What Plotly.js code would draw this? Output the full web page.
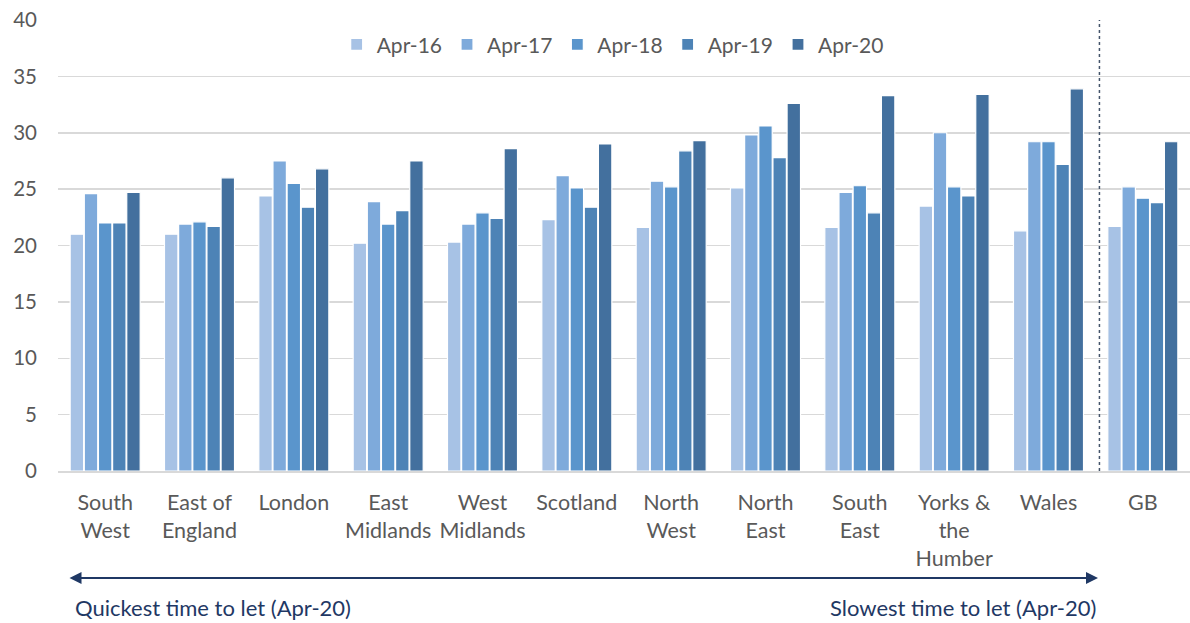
<!DOCTYPE html>
<html><head><meta charset="utf-8">
<script src="https://cdn.plot.ly/plotly-3.0.1.min.js"></script>
<style>html,body{margin:0;padding:0;background:#fff}</style>
</head><body><div id="chart" style="width:1190px;height:623px"></div>
<script>
const categories = ["South<br>West","East of<br>England","London","East<br>Midlands","West<br>Midlands","Scotland","North<br>West","North<br>East","South<br>East","Yorks &<br>the<br>Humber","Wales","GB"];
const seriesNames = ["Apr-16","Apr-17","Apr-18","Apr-19","Apr-20"];
const apr16 = [21.0,21.0,24.4,20.2,20.3,22.3,21.6,25.1,21.6,23.5,21.3,21.7];
const apr17 = [24.6,21.9,27.5,23.9,21.9,26.2,25.7,29.8,24.7,30.0,29.2,25.2];
const apr18 = [22.0,22.1,25.5,21.9,22.9,25.1,25.2,30.6,25.3,25.2,29.2,24.2];
const apr19 = [22.0,21.7,23.4,23.1,22.4,23.4,28.4,27.8,22.9,24.4,27.2,23.8];
const apr20 = [24.7,26.0,26.8,27.5,28.6,29.0,29.3,32.6,33.3,33.4,33.9,29.2];
const yTicks = [0,5,10,15,20,25,30,35,40];
const colors = ["#a7c2e5","#7eaadb","#5a95cc","#4d83b6","#43709e"];
const values = [apr16,apr17,apr18,apr19,apr20];

const xIdx = categories.map((c,i)=>i);
const traces = values.map((v,k)=>({
  type:'bar', name:seriesNames[k], x:xIdx, y:v,
  marker:{color:colors[k], line:{color:'#ffffff', width:1.2}},
  hoverinfo:'y'
}));

const font = "Lato, 'Open Sans', sans-serif";
const layout = {
  width:1190, height:623,
  margin:{l:58, r:0, t:20, b:152},
  paper_bgcolor:'#fff', plot_bgcolor:'#fff',
  barmode:'group', bargap:0.25, bargroupgap:0.05,
  font:{family:font, color:'#595959', size:20},
  showlegend:true,
  legend:{orientation:'h', x:0.49, xanchor:'center', y:0.945, yanchor:'middle',
    font:{size:21, color:'#595959'}, itemwidth:30, traceorder:'normal', bgcolor:'rgba(0,0,0,0)'},
  xaxis:{type:'linear', range:[-0.5,11.5], tickmode:'array', tickvals:xIdx, ticktext:categories,
    showgrid:false, zeroline:false, showline:true, linecolor:'#d9d9d9', linewidth:1.5,
    ticks:'', ticklabelstandoff:12, tickfont:{size:21.5, color:'#595959'}, fixedrange:true},
  yaxis:{range:[0,40], tickmode:'array', tickvals:yTicks, ticktext:yTicks.map(String),
    showgrid:true, gridcolor:'#d9d9d9', gridwidth:1.5, zeroline:false, showline:false,
    ticks:'', ticklabelstandoff:20, tickfont:{size:20.5, color:'#595959'}, fixedrange:true},
  shapes:[
    {type:'line', xref:'x', yref:'paper', x0:10.54, x1:10.54, y0:0, y1:1,
     line:{color:'#44546a', width:1.5, dash:'3px,3px'}}
  ],
  annotations:[
    {xref:'paper', yref:'paper', x:(1098-58)/1132, y:-(578-471)/451, axref:'pixel', ayref:'pixel',
     ax:-1030, ay:0, text:'', showarrow:true, arrowside:'end+start', arrowhead:2, arrowsize:1.2,
     arrowwidth:2, arrowcolor:'#1f3864'},
    {xref:'paper', yref:'paper', x:(73-58)/1132, xanchor:'left', y:-(607-471)/451, yanchor:'middle',
     text:'Quickest time to let (Apr-20)', showarrow:false, font:{size:22, color:'#1f3864'}},
    {xref:'paper', yref:'paper', x:(1098-58)/1132, xanchor:'right', y:-(607-471)/451, yanchor:'middle',
     text:'Slowest time to let (Apr-20)', showarrow:false, font:{size:22, color:'#1f3864'}}
  ]
};
Plotly.newPlot('chart', traces, layout, {displayModeBar:false, staticPlot:true});
</script></body></html>
